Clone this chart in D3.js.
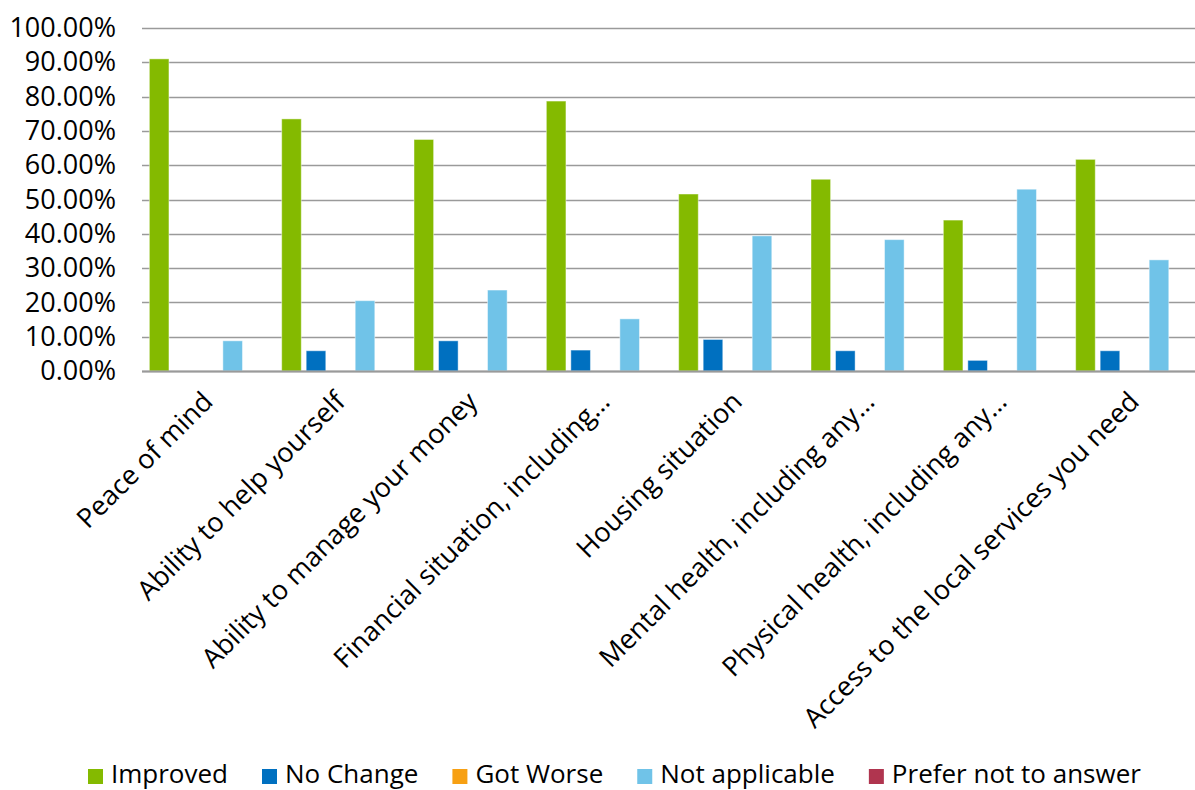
<!DOCTYPE html>
<html>
<head>
<meta charset="utf-8">
<script src="https://cdn.jsdelivr.net/npm/d3@7"></script>
<style>
  html, body { margin: 0; padding: 0; background: #fff; }
  svg { display: block; font-family: "Open Sans", "DejaVu Sans", sans-serif; }
</style>
</head>
<body>
<svg id="chart" width="1195" height="790"></svg>
<script>
// Survey outcome categories
const categories = [
  "Peace of mind",
  "Ability to help yourself",
  "Ability to manage your money",
  "Financial situation, including\u2026",
  "Housing situation",
  "Mental health, including any\u2026",
  "Physical health, including any\u2026",
  "Access to the local services you need"
];

// Response series (share of respondents)
const seriesNames = ["Improved", "No Change", "Got Worse", "Not applicable", "Prefer not to answer"];
const seriesColors = ["#84BA00", "#0070C0", "#F7A013", "#70C3E8", "#B0354F"];

const improved      = [0.910, 0.735, 0.675, 0.787, 0.516, 0.559, 0.440, 0.617];
const noChange      = [0.000, 0.059, 0.088, 0.061, 0.092, 0.059, 0.031, 0.059];
const gotWorse      = [0, 0, 0, 0, 0, 0, 0, 0];
const notApplicable = [0.088, 0.205, 0.236, 0.152, 0.394, 0.383, 0.530, 0.324];
const preferNot     = [0, 0, 0, 0, 0, 0, 0, 0];

const seriesValues = [improved, noChange, gotWorse, notApplicable, preferNot];

// Axis ticks
const yTicks = [0, 0.1, 0.2, 0.3, 0.4, 0.5, 0.6, 0.7, 0.8, 0.9, 1.0];

const svg = d3.select("#chart");
const fontSize = 27;
const legendFontSize = 26;

const plot = { left: 142, top: 28, bottom: 371, right: 142 + 8 * 132.33 };

const x = d3.scaleBand()
  .domain(categories)
  .range([plot.left, plot.right])
  .paddingInner(0)
  .paddingOuter(0);

const xInner = d3.scaleBand()
  .domain(seriesNames)
  .range([0, x.bandwidth()])
  .paddingInner(0.2)
  .paddingOuter(0.3);

const y = d3.scaleLinear()
  .domain([0, 1])
  .range([plot.bottom, plot.top]);

// Horizontal gridlines
svg.append("g")
  .selectAll("line")
  .data(yTicks)
  .join("line")
  .attr("x1", plot.left)
  .attr("x2", 1195)
  .attr("y1", d => Math.round(y(d)) + 0.5)
  .attr("y2", d => Math.round(y(d)) + 0.5)
  .attr("stroke", "#9a9a9a")
  .attr("stroke-width", 1.6);

// Y axis labels
const yAxis = d3.axisLeft(y)
  .tickValues(yTicks)
  .tickFormat(d => (d * 100).toFixed(2) + "%")
  .tickSize(0)
  .tickPadding(0);

const yG = svg.append("g")
  .attr("transform", "translate(116,0)")
  .call(yAxis);
yG.select(".domain").remove();
yG.selectAll("text")
  .attr("font-size", fontSize)
  .attr("font-family", "\"Open Sans\", sans-serif")
  .attr("fill", "#000");

// Bars
const groups = svg.append("g")
  .selectAll("g")
  .data(categories)
  .join("g")
  .attr("transform", d => `translate(${x(d)},0)`);

groups.selectAll("rect")
  .data((c, ci) => seriesNames.map((s, si) => ({ series: s, value: seriesValues[si][ci], color: seriesColors[si] })))
  .join("rect")
  .attr("x", d => xInner(d.series))
  .attr("width", xInner.bandwidth())
  .attr("y", d => y(d.value))
  .attr("height", d => y(0) - y(d.value))
  .attr("fill", d => d.color)
  .attr("stroke", "#ffffff")
  .attr("stroke-opacity", 0.45)
  .attr("stroke-width", 1);

// Baseline
svg.append("line")
  .attr("x1", plot.left)
  .attr("x2", 1195)
  .attr("y1", Math.round(y(0)) + 0.5)
  .attr("y2", Math.round(y(0)) + 0.5)
  .attr("stroke", "#9a9a9a")
  .attr("stroke-width", 1.8);

// Rotated category labels
svg.append("g")
  .selectAll("text")
  .data(categories)
  .join("text")
  .attr("transform", d => `translate(${x(d) + x.bandwidth() / 2 - 8},${plot.bottom + 18}) rotate(-45)`)
  .attr("text-anchor", "end")
  .attr("dy", "0.75em")
  .attr("font-size", fontSize)
  .attr("fill", "#000")
  .text(d => d);

// Legend
const legend = svg.append("g").attr("transform", "translate(0,776)");
let lx = 88;
seriesNames.forEach((name, i) => {
  legend.append("rect")
    .attr("x", lx)
    .attr("y", -7)
    .attr("width", 15)
    .attr("height", 15)
    .attr("fill", seriesColors[i]);
  const t = legend.append("text")
    .attr("x", lx + 23)
    .attr("y", 7)
    .attr("font-size", legendFontSize)
    .attr("fill", "#000")
    .text(name);
  lx += 23 + t.node().getComputedTextLength() + 34;
});
</script>
</body>
</html>
